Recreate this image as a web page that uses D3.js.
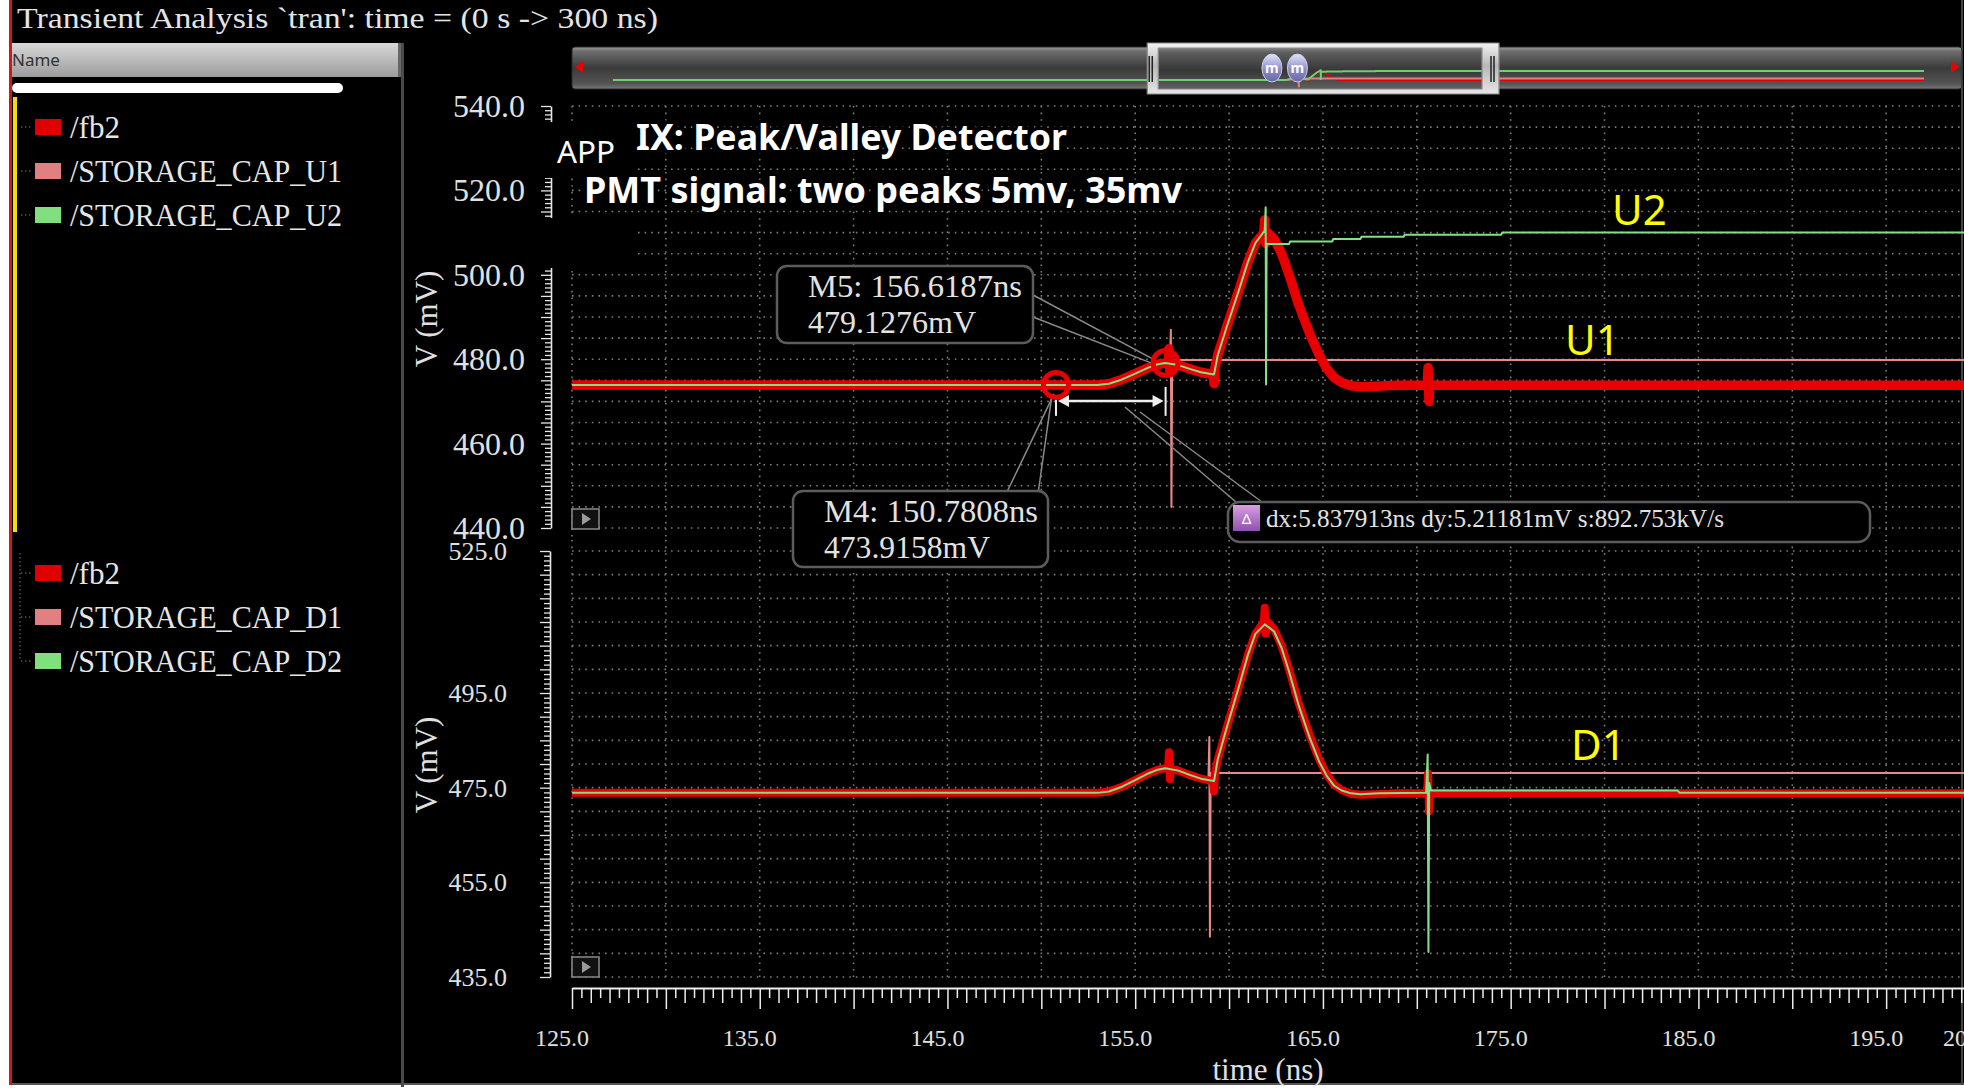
<!DOCTYPE html>
<html>
<head>
<meta charset="utf-8">
<script src="https://cdn.jsdelivr.net/npm/d3@7"></script>
<style>
  html, body { margin: 0; padding: 0; background: #000; overflow: hidden; }
  svg { display: block; }
</style>
</head>
<body>
<svg id="chart" width="1964" height="1089"></svg>
<script>
// ---------------- data ----------------
const timeTickLabels = [125, 135, 145, 155, 165, 175, 185, 195, 200];
const upperVoltLabels = [540, 520, 500, 480, 460, 440];
const lowerVoltLabels = [525, 495, 475, 455, 435];

const upperSignals = ["/fb2", "/STORAGE_CAP_U1", "/STORAGE_CAP_U2"];
const lowerSignals = ["/fb2", "/STORAGE_CAP_D1", "/STORAGE_CAP_D2"];
const signalColors = ["#e00000", "#e08080", "#80e080"];

// [time ns, voltage mV]
const fb2 = [
  [0, 473.9], [125, 473.9], [150, 473.9], [153, 473.9], [153.6, 474.2], [154.3, 475.2],
  [155.0, 476.6], [155.7, 478.0], [156.2, 478.8], [156.6, 479.1], [156.75, 479.1],
  [156.8, 482.5], [156.85, 476.8], [156.9, 479.0], [157.3, 478.6], [157.9, 477.7],
  [158.5, 476.9], [159.0, 476.5], [159.15, 476.4], [159.2, 474.2], [159.25, 478.0],
  [159.4, 481.0], [159.9, 488], [160.5, 496], [161.0, 503], [161.4, 507.5], [161.85, 510],
  [161.9, 513], [161.95, 507.5], [162.05, 510], [162.4, 508.5], [162.8, 505], [163.2, 500],
  [163.7, 493], [164.3, 486], [164.8, 481], [165.2, 477.8], [165.6, 475.6], [166.0, 474.5],
  [166.5, 473.7], [167.0, 473.5], [167.8, 473.6], [169.0, 473.8], [170.55, 473.8],
  [170.6, 478.0], [170.65, 470.0], [170.7, 473.8], [200, 473.8], [300, 473.8]
];

const storageCapU1 = [
  [0, 473.9], [150, 473.9], [153, 473.9], [153.6, 474.2], [154.3, 475.2], [155.0, 476.6],
  [155.7, 478.0], [156.2, 478.8], [156.6, 479.1], [156.85, 479.2], [156.9, 487.0],
  [156.93, 445.0], [156.97, 479.8], [300, 479.8]
];

const storageCapU2 = [
  [0, 473.9], [150, 473.9], [153, 473.9], [153.6, 474.2], [154.3, 475.2], [155.0, 476.6],
  [155.7, 478.0], [156.2, 478.8], [156.6, 479.1], [157.3, 478.6], [157.9, 477.7],
  [158.5, 476.9], [159.2, 476.4], [159.4, 481.0], [159.9, 488], [160.5, 496], [161.0, 503],
  [161.4, 507.5], [161.9, 510.5], [161.95, 516.0], [161.97, 474.0], [162.0, 507.3],
  [163.2, 507.3], [163.25, 507.9], [165.5, 507.9], [165.55, 508.5], [167.0, 508.5],
  [167.05, 509.0], [169.3, 509.0], [169.35, 509.5], [174.5, 509.5], [174.55, 510.0], [300, 510.0]
];

const storageCapD1 = [
  [0, 473.9], [153, 473.9], [153.6, 474.2], [154.3, 475.2], [155.0, 476.6], [155.7, 478.0],
  [156.2, 478.8], [156.6, 479.1], [157.3, 478.6], [157.9, 477.7], [158.5, 476.9],
  [158.9, 476.6], [158.95, 485.7], [158.98, 443.5], [159.02, 478.1], [300, 478.1]
];

const storageCapD2 = [
  [0, 473.9], [153, 473.9], [153.6, 474.2], [154.3, 475.2], [155.0, 476.6], [155.7, 478.0],
  [156.2, 478.8], [156.6, 479.1], [157.3, 478.6], [157.9, 477.7], [158.5, 476.9],
  [159.2, 476.4], [159.4, 481.0], [159.9, 488], [160.5, 496], [161.0, 503], [161.4, 507.5],
  [161.9, 509.5], [162.4, 508.0], [162.8, 504.5], [163.2, 499.5], [163.7, 492.5],
  [164.3, 485.5], [164.8, 480.5], [165.2, 477.5], [165.6, 475.4], [166.0, 474.4],
  [166.5, 473.8], [167.0, 473.6], [168.0, 473.8], [170.5, 473.9], [170.58, 482.0],
  [170.62, 440.3], [170.66, 476.0], [170.75, 474.4], [183.9, 474.4], [184.0, 473.9], [300, 473.9]
];

const markerPoints = [
  { name: "M4", t: 150.7808, v: 473.9158 },
  { name: "M5", t: 156.6187, v: 479.1276 }
];
const deltaLabel = "dx:5.837913ns dy:5.21181mV s:892.753kV/s";
const windowRange = [125, 200];   // visible slice of the 0-300 ns run

// ---------------- setup ----------------
const W = 1964, H = 1089;
const PLOT_L = 572, PLOT_R = 1964;
const SERIF = "'Liberation Serif', 'DejaVu Serif', serif";
const SANS = "'Noto Sans', 'Open Sans', sans-serif";

const svg = d3.select("#chart");
const defs = svg.append("defs");

const x = d3.scaleLinear().domain(windowRange).range([572, 1980]);
const yU = d3.scaleLinear().domain([440, 540]).range([528, 106]);
const yL = d3.scaleLinear().domain([435, 525]).range([977, 551]);

svg.append("rect").attr("width", W).attr("height", H).attr("fill", "#000");

// gradients
function vGrad(id, stops) {
  const g = defs.append("linearGradient").attr("id", id)
    .attr("x1", 0).attr("y1", 0).attr("x2", 0).attr("y2", 1);
  stops.forEach(s => g.append("stop").attr("offset", s[0]).attr("stop-color", s[1]));
}
vGrad("barGrad", [["0%", "#9a9a9a"], ["10%", "#6e6e6e"], ["50%", "#3a3a3a"], ["88%", "#555"], ["100%", "#7a7a7a"]]);
vGrad("handleGrad", [["0%", "#f4f4f4"], ["45%", "#b8b8b8"], ["100%", "#e6e6e6"]]);
vGrad("innerGrad", [["0%", "#808080"], ["12%", "#5c5c5c"], ["55%", "#363636"], ["100%", "#606060"]]);
vGrad("headGrad", [["0%", "#d8d8d8"], ["100%", "#9c9c9c"]]);
vGrad("mGrad", [["0%", "#e4e4fa"], ["55%", "#8c8cc8"], ["100%", "#6868a8"]]);
vGrad("deltaGrad", [["0%", "#d8a0e0"], ["100%", "#9050b0"]]);

defs.append("clipPath").attr("id", "clipU").append("rect")
  .attr("x", PLOT_L).attr("y", 96).attr("width", PLOT_R - PLOT_L).attr("height", 440);
defs.append("clipPath").attr("id", "clipL").append("rect")
  .attr("x", PLOT_L).attr("y", 541).attr("width", PLOT_R - PLOT_L).attr("height", 440);
defs.append("clipPath").attr("id", "clipMini").append("rect")
  .attr("x", 590).attr("y", 50).attr("width", 1350).attr("height", 38);

// ---------------- window chrome / left panel ----------------
svg.append("rect").attr("x", 0).attr("y", 0).attr("width", 9).attr("height", H).attr("fill", "#fff");
svg.append("rect").attr("x", 9).attr("y", 0).attr("width", 3).attr("height", H).attr("fill", "#d01818");
svg.append("rect").attr("x", 0).attr("y", 1085).attr("width", W).attr("height", 4).attr("fill", "#fff");
svg.append("line").attr("x1", 12).attr("x2", W).attr("y1", 1084).attr("y2", 1084).attr("stroke", "#555").attr("stroke-width", 2);
svg.append("line").attr("x1", 1962).attr("x2", 1962).attr("y1", 0).attr("y2", 1085).attr("stroke", "#444").attr("stroke-width", 2);

svg.append("text").attr("x", 17).attr("y", 28)
  .attr("font-family", SERIF).attr("font-size", 30).attr("fill", "#e4e4e4")
  .attr("textLength", 641).attr("lengthAdjust", "spacingAndGlyphs")
  .text("Transient Analysis `tran': time = (0 s -> 300 ns)");

svg.append("rect").attr("x", 12).attr("y", 43).attr("width", 388).attr("height", 34).attr("fill", "url(#headGrad)");
svg.append("text").attr("x", 12).attr("y", 66).attr("font-family", SANS).attr("font-size", 17)
  .attr("fill", "#333").text("Name");
svg.append("rect").attr("x", 398).attr("y", 43).attr("width", 3).attr("height", 34).attr("fill", "#666");
svg.append("rect").attr("x", 401).attr("y", 43).attr("width", 3).attr("height", H - 45).attr("fill", "#4a4a4a");
svg.append("rect").attr("x", 12).attr("y", 83).attr("width", 331).attr("height", 10).attr("rx", 5).attr("fill", "#fff");
svg.append("rect").attr("x", 13).attr("y", 97).attr("width", 4).attr("height", 435).attr("fill", "#f0e000");

function legend(names, centers, withTree) {
  const g = svg.append("g");
  if (withTree) {
    g.append("line").attr("x1", 20).attr("x2", 20).attr("y1", centers[0] - 20).attr("y2", centers[centers.length - 1])
      .attr("stroke", "#777").attr("stroke-dasharray", "1.5 2.5");
  }
  names.forEach((n, i) => {
    const cy = centers[i];
    g.append("line").attr("x1", 21).attr("x2", 33).attr("y1", cy).attr("y2", cy)
      .attr("stroke", "#777").attr("stroke-dasharray", "1.5 2.5");
    g.append("rect").attr("x", 35).attr("y", cy - 8).attr("width", 26).attr("height", 16)
      .attr("fill", signalColors[i]);
    const t = g.append("text").attr("x", 70).attr("y", cy + 11)
      .attr("font-family", SERIF).attr("font-size", 31).attr("fill", "#e6e6e6").text(n);
    if (n.length > 6) t.attr("textLength", 272).attr("lengthAdjust", "spacingAndGlyphs");
  });
}
legend(upperSignals, [127, 171, 215], false);
legend(lowerSignals, [573, 617, 661], true);

// ---------------- overview strip ----------------
const miniX = d3.scaleLinear().domain([0, 300]).range([613, 1924]);
const miniY = d3.scaleLinear().domain([440, 540]).range([88.5, 63.5]);
svg.append("rect").attr("x", 572).attr("y", 47).attr("width", 1390).attr("height", 42).attr("rx", 3)
  .attr("fill", "url(#barGrad)").attr("stroke", "#2a2a2a");
svg.append("rect").attr("x", 1158).attr("y", 48).attr("width", 323).attr("height", 41).attr("fill", "url(#innerGrad)");
svg.append("path").attr("d", "M583,61 L575,67 L583,73 Z").attr("fill", "#e00");
svg.append("path").attr("d", "M1951,61 L1959,67 L1951,73 Z").attr("fill", "#e00");

const miniLine = d3.line().x(d => miniX(d[0])).y(d => miniY(d[1]));
const mini = svg.append("g").attr("clip-path", "url(#clipMini)").attr("fill", "none").attr("stroke-width", 2);
mini.append("path").datum(fb2).attr("d", miniLine).attr("stroke", "#e00000");
mini.append("path").datum(storageCapU1).attr("d", miniLine).attr("stroke", "#e08080");
mini.append("path").datum(storageCapU2).attr("d", miniLine).attr("stroke", "#70d070");

// handle frame over the visible window
const hx0 = miniX(windowRange[0]), hx1 = miniX(windowRange[1]);
const frame = d3.path();
frame.moveTo(hx0 - 12, 43); frame.lineTo(hx1 + 12, 43); frame.lineTo(hx1 + 12, 94); frame.lineTo(hx0 - 12, 94); frame.closePath();
frame.moveTo(hx0 - 1, 48); frame.lineTo(hx1 - 5, 48); frame.lineTo(hx1 - 5, 89); frame.lineTo(hx0 - 1, 89); frame.closePath();
svg.append("path").attr("d", frame.toString()).attr("fill-rule", "evenodd")
  .attr("fill", "url(#handleGrad)").attr("stroke", "#8a8a8a").attr("stroke-width", 1.2)
  .attr("stroke-linejoin", "round");
[hx0 - 10, hx0 - 7, hx1 + 4, hx1 + 7].forEach(gx => {
  svg.append("line").attr("x1", gx).attr("x2", gx).attr("y1", 56).attr("y2", 82)
    .attr("stroke", "#222").attr("stroke-width", 1.5);
});
markerPoints.forEach(m => {
  const cx = miniX(m.t);
  svg.append("ellipse").attr("cx", cx).attr("cy", 68).attr("rx", 10).attr("ry", 14)
    .attr("fill", "url(#mGrad)").attr("stroke", "#c8c8e8").attr("stroke-width", 1);
  svg.append("text").attr("x", cx).attr("y", 73).attr("text-anchor", "middle")
    .attr("font-family", SANS).attr("font-weight", "bold").attr("font-size", 14).attr("fill", "#fff").text("m");
});

// ---------------- grids ----------------
function grid(yScale, lo, hi, top, bottom) {
  const g = svg.append("g").attr("stroke", "#7c7c7c").attr("stroke-width", 1.6)
    .attr("stroke-dasharray", "1.6 5");
  g.selectAll("line.h").data(d3.range(lo, hi + 0.1, 5)).join("line").attr("class", "h")
    .attr("x1", PLOT_L).attr("x2", PLOT_R).attr("y1", d => yScale(d)).attr("y2", d => yScale(d));
  g.selectAll("line.v").data(d3.range(125, 200, 5)).join("line").attr("class", "v")
    .attr("x1", d => x(d)).attr("x2", d => x(d)).attr("y1", top).attr("y2", bottom);
}
grid(yU, 440, 540, 106, 540);
grid(yL, 435, 525, 540, 977);

// ---------------- axes ----------------
function ruler(scale, lo, hi, xPos) {
  const g = svg.append("g").attr("transform", `translate(${xPos},0)`)
    .call(d3.axisLeft(scale).tickValues(d3.range(lo, hi + 0.5, 1)).tickFormat("").tickSizeOuter(0));
  g.select(".domain").attr("stroke", "#e6e6e6").attr("stroke-width", 1.6);
  g.selectAll(".tick line").attr("x2", d => (d % 5 === 0 ? -10 : -6))
    .attr("stroke", "#e6e6e6").attr("stroke-width", 1.3);
}
ruler(yU, 440, 540, 551);
ruler(yL, 435, 525, 550);

svg.append("g").selectAll("text").data(upperVoltLabels).join("text")
  .attr("x", 525).attr("y", d => yU(d) + 11).attr("text-anchor", "end")
  .attr("font-family", SERIF).attr("font-size", 32).attr("fill", "#e0e0e0")
  .text(d3.format(".1f"));
svg.append("g").selectAll("text").data(lowerVoltLabels).join("text")
  .attr("x", 507).attr("y", d => yL(d) + 9).attr("text-anchor", "end")
  .attr("font-family", SERIF).attr("font-size", 26).attr("fill", "#e0e0e0")
  .text(d3.format(".1f"));

[[yU, 319], [yL, 765]].forEach(([s, cy]) => {
  svg.append("text").attr("transform", `translate(437,${cy}) rotate(-90)`).attr("text-anchor", "middle")
    .attr("font-family", SERIF).attr("font-size", 31).attr("fill", "#e0e0e0").text("V (mV)");
});

const xg = svg.append("g").attr("transform", "translate(0,988)")
  .call(d3.axisBottom(x).tickValues(d3.range(125, 200.001, 0.5)).tickFormat("").tickSizeOuter(0));
xg.select(".domain").attr("stroke", "#eee").attr("stroke-width", 2);
xg.selectAll(".tick line")
  .attr("y2", d => (Math.abs(d % 5) < 1e-9 ? 21 : (Math.abs(d % 1) < 1e-9 ? 15 : 10)))
  .attr("stroke", "#eee").attr("stroke-width", 1.5);
svg.append("g").selectAll("text").data(timeTickLabels).join("text")
  .attr("x", d => x(d) - 10).attr("y", 1046).attr("text-anchor", "middle")
  .attr("font-family", SERIF).attr("font-size", 24).attr("fill", "#e0e0e0")
  .text(d3.format(".1f"));
svg.append("text").attr("x", 1268).attr("y", 1080).attr("text-anchor", "middle")
  .attr("font-family", SERIF).attr("font-size", 31).attr("fill", "#e0e0e0").text("time (ns)");

// ---------------- traces ----------------
function trace(g, data, yScale, color, width) {
  g.append("path").datum(data)
    .attr("d", d3.line().x(d => x(d[0])).y(d => yScale(d[1])))
    .attr("fill", "none").attr("stroke", color).attr("stroke-width", width)
    .attr("stroke-linejoin", "round");
}
const gU = svg.append("g").attr("clip-path", "url(#clipU)");
trace(gU, storageCapU1, yU, "#e88888", 2);
trace(gU, fb2, yU, "#e80000", 9.5);
trace(gU, storageCapU2, yU, "#84e084", 2);

const gL = svg.append("g").attr("clip-path", "url(#clipL)");
trace(gL, storageCapD1, yL, "#e88888", 2);
trace(gL, fb2, yL, "#e80000", 8);
trace(gL, storageCapD2, yL, "#84e084", 2);

// play buttons
[509, 957].forEach(by => {
  svg.append("rect").attr("x", 572).attr("y", by).attr("width", 27).attr("height", 20)
    .attr("fill", "#111").attr("stroke", "#8a8a8a").attr("stroke-width", 1.5);
  svg.append("path").attr("d", `M582,${by + 4} L591,${by + 10} L582,${by + 16} Z`).attr("fill", "#9a9a9a");
});

// ---------------- title overlay ----------------
svg.append("rect").attr("x", 536).attr("y", 122).attr("width", 102).attr("height", 56).attr("fill", "#000");
svg.append("rect").attr("x", 536).attr("y", 218).attr("width", 102).attr("height", 50).attr("fill", "#000");
function overlayText(tx, ty, str, size, weight, len) {
  const t = svg.append("text").attr("x", tx).attr("y", ty)
    .attr("font-family", SANS).attr("font-size", size).attr("font-weight", weight)
    .attr("fill", "#fff").attr("stroke", "#000").attr("stroke-width", 7).attr("paint-order", "stroke")
    .text(str);
  if (len) t.attr("textLength", len).attr("lengthAdjust", "spacingAndGlyphs");
}
overlayText(557, 163, "APP", 30, "normal", 58);
overlayText(636, 150, "IX: Peak/Valley Detector", 35, "bold", 431);
overlayText(584, 203, "PMT signal: two peaks 5mv, 35mv", 35, "bold", 598);

// trace tags
[["U2", 1612, 225], ["U1", 1565, 355], ["D1", 1571, 760]].forEach(([s, tx, ty]) => {
  svg.append("text").attr("x", tx).attr("y", ty).attr("font-family", SANS).attr("font-size", 42)
    .attr("fill", "#ffff00").text(s);
});

// ---------------- markers & delta ----------------
const [m4, m5] = markerPoints;
const m4x = x(m4.t), m4y = yU(m4.v), m5x = x(m5.t), m5y = yU(m5.v);
const ann = svg.append("g");
const leader = (x1, y1, x2, y2) => ann.append("line").attr("x1", x1).attr("y1", y1).attr("x2", x2).attr("y2", y2)
  .attr("stroke", "#8a8a8a").attr("stroke-width", 1.5);

// callout boxes
function callout(bx, by, bw, bh, lines, lens) {
  ann.append("rect").attr("x", bx).attr("y", by).attr("width", bw).attr("height", bh).attr("rx", 10)
    .attr("fill", "#000").attr("stroke", "#5c5c5c").attr("stroke-width", 2.5);
  lines.forEach((s, i) => {
    ann.append("text").attr("x", bx + 31).attr("y", by + 31 + i * 36)
      .attr("font-family", SERIF).attr("font-size", 31).attr("fill", "#e2e2e2")
      .attr("textLength", lens[i]).attr("lengthAdjust", "spacingAndGlyphs").text(s);
  });
}
leader(1033, 295, m5x - 11, m5y - 3);
leader(1033, 317, m5x - 12, m5y + 1);
callout(777, 266, 256, 77, [`${m5.name}: ${m5.t.toFixed(4)}ns`, `${m5.v.toFixed(4)}mV`], [214, 168]);
leader(1007, 492, m4x - 2, m4y + 9);
leader(1038, 494, m4x - 4, m4y + 10);
callout(793, 491, 255, 76, [`${m4.name}: ${m4.t.toFixed(4)}ns`, `${m4.v.toFixed(4)}mV`], [214, 166]);

// delta arrow between the two markers
const ay = m4y + 16;
ann.append("line").attr("x1", m4x).attr("x2", m4x).attr("y1", ay - 4).attr("y2", ay + 15).attr("stroke", "#eee").attr("stroke-width", 2);
ann.append("line").attr("x1", m5x).attr("x2", m5x).attr("y1", ay - 14).attr("y2", ay + 15).attr("stroke", "#eee").attr("stroke-width", 2);
ann.append("line").attr("x1", m4x + 10).attr("x2", m5x - 10).attr("y1", ay).attr("y2", ay).attr("stroke", "#eee").attr("stroke-width", 2.5);
ann.append("path").attr("d", `M${m4x + 2},${ay} L${m4x + 13},${ay - 6} L${m4x + 13},${ay + 6} Z`).attr("fill", "#eee");
ann.append("path").attr("d", `M${m5x - 2},${ay} L${m5x - 13},${ay - 6} L${m5x - 13},${ay + 6} Z`).attr("fill", "#eee");
leader(1125, 407, 1236, 502);
leader(1140, 412, 1262, 502);

ann.append("rect").attr("x", 1228).attr("y", 502).attr("width", 642).attr("height", 40).attr("rx", 12)
  .attr("fill", "#000").attr("stroke", "#5c5c5c").attr("stroke-width", 2.5);
ann.append("rect").attr("x", 1233).attr("y", 505).attr("width", 27).attr("height", 26).attr("fill", "url(#deltaGrad)");
ann.append("text").attr("x", 1246.5).attr("y", 524).attr("text-anchor", "middle")
  .attr("font-family", SANS).attr("font-size", 15).attr("fill", "#fff").text("Δ");
ann.append("text").attr("x", 1266).attr("y", 527).attr("font-family", SERIF).attr("font-size", 25)
  .attr("fill", "#e2e2e2").attr("textLength", 458).attr("lengthAdjust", "spacingAndGlyphs").text(deltaLabel);

// marker rings
markerPoints.forEach(m => {
  ann.append("circle").attr("cx", x(m.t)).attr("cy", yU(m.v)).attr("r", 12.5)
    .attr("fill", "none").attr("stroke", "#e80000").attr("stroke-width", 5);
});
</script>
</body>
</html>
